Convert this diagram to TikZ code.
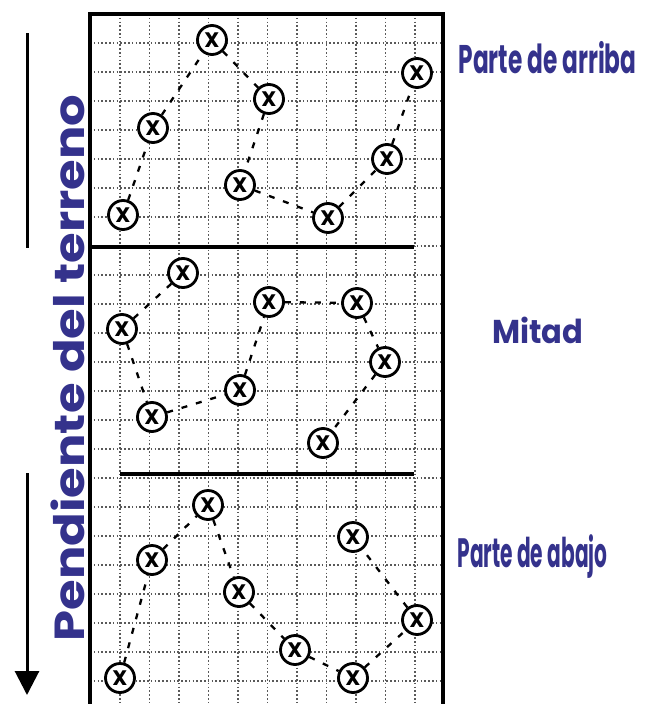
\documentclass[tikz,border=0pt]{standalone}
\usepackage{fontspec}
\setmainfont{Poppins}
\usepackage{xcolor}
\usepackage{graphicx}
\usepackage{tikz}
\usetikzlibrary{arrows.meta}

\definecolor{tinta}{RGB}{52,50,140}

\begin{document}
\begin{tikzpicture}[x=1pt, y=-1pt, line width=1.0pt,
  punto/.style={circle, draw, line width=2.8pt, fill=white, minimum size=29pt,
    inner sep=0pt, font=\bfseries\fontsize{21}{21}\selectfont},
  senda/.style={line width=2.3pt, dash pattern=on 6pt off 9pt},
  rejilla/.style={black!65, line width=1.5pt, dash pattern=on 1.6pt off 2.2pt},
  borde/.style={line width=3.2pt},
  rotulo/.style={text=tinta, inner sep=0pt}]

  \useasboundingbox (0,0) rectangle (653,704);

  % -- dotted grid ---------------------------------------------------------
  \foreach \k in {0,...,10}
    \draw[rejilla] ({120+29.5*\k},14) -- ({120+29.5*\k},704);
  \foreach \k in {0,...,22}
    \draw[rejilla] (90,{43+29*\k}) -- (443,{43+29*\k});

  % -- frame and the two dividers ------------------------------------------
  \draw[borde] (90,704) -- (90,14) -- (443,14) -- (443,704);
  \draw[borde] (90,247) -- (414,247);
  \draw[borde] (120,474) -- (414,474);

  % -- upper part ------------------------------------------------------------
  \node[punto] (a1) at (123,215) {X};
  \node[punto] (a2) at (153,128) {X};
  \node[punto] (a3) at (212,40)  {X};
  \node[punto] (a4) at (269,99)  {X};
  \node[punto] (a5) at (240,185) {X};
  \node[punto] (a6) at (328,218) {X};
  \node[punto] (a7) at (387,159) {X};
  \node[punto] (a8) at (417,73)  {X};
  \draw[senda] (a1) -- (a2) -- (a3) -- (a4) -- (a5) -- (a6) -- (a7) -- (a8);

  % -- middle part -------------------------------------------------------------
  \node[punto] (m1) at (183,273) {X};
  \node[punto] (m2) at (122,329) {X};
  \node[punto] (m3) at (152,417) {X};
  \node[punto] (m4) at (240,390) {X};
  \node[punto] (m5) at (269,302) {X};
  \node[punto] (m6) at (357,303) {X};
  \node[punto] (m7) at (385,362) {X};
  \node[punto] (m8) at (323,443) {X};
  \draw[senda] (m1) -- (m2) -- (m3) -- (m4) -- (m5) -- (m6) -- (m7) -- (m8);

  % -- lower part --------------------------------------------------------------
  \node[punto] (b1) at (120,678) {X};
  \node[punto] (b2) at (152,560) {X};
  \node[punto] (b3) at (208,505) {X};
  \node[punto] (b4) at (239,592) {X};
  \node[punto] (b5) at (295,650) {X};
  \node[punto] (b6) at (353,678) {X};
  \node[punto] (b7) at (417,620) {X};
  \node[punto] (b8) at (353,537) {X};
  \draw[senda] (b1) -- (b2) -- (b3) -- (b4) -- (b5) -- (b6) -- (b7) -- (b8);

  % -- slope arrow, broken by its label ------------------------------------------
  \coordinate (cola) at (27,33);
  \coordinate (corte1) at (27,248);
  \coordinate (corte2) at (27,473);
  \coordinate (punta) at (27,695);
  \draw[line width=3pt] (cola) -- (corte1);
  \draw[line width=3pt, -{Triangle[width=24pt, length=24pt]}] (corte2) -- (punta);
  \node[rotulo, rotate=90, anchor=base, font=\bfseries\fontsize{42}{42}\selectfont]
    (pendiente) at (84,368) {\resizebox{547pt}{\height}{Pendiente del terreno}};

  % -- labels on the right -------------------------------------------------------
  \node[rotulo, anchor=base west, font=\bfseries\fontsize{40}{40}\selectfont]
    (arriba) at (458,73) {\resizebox{178pt}{\height}{Parte de arriba}};
  \node[rotulo, anchor=base west, font=\bfseries\fontsize{33}{33}\selectfont]
    (mitad) at (492,343) {\resizebox{91pt}{\height}{Mitad}};
  \node[rotulo, anchor=base west, font=\bfseries\fontsize{41}{41}\selectfont]
    (abajo) at (457,567) {\resizebox{150pt}{\height}{Parte de abajo}};

\end{tikzpicture}
\end{document}
